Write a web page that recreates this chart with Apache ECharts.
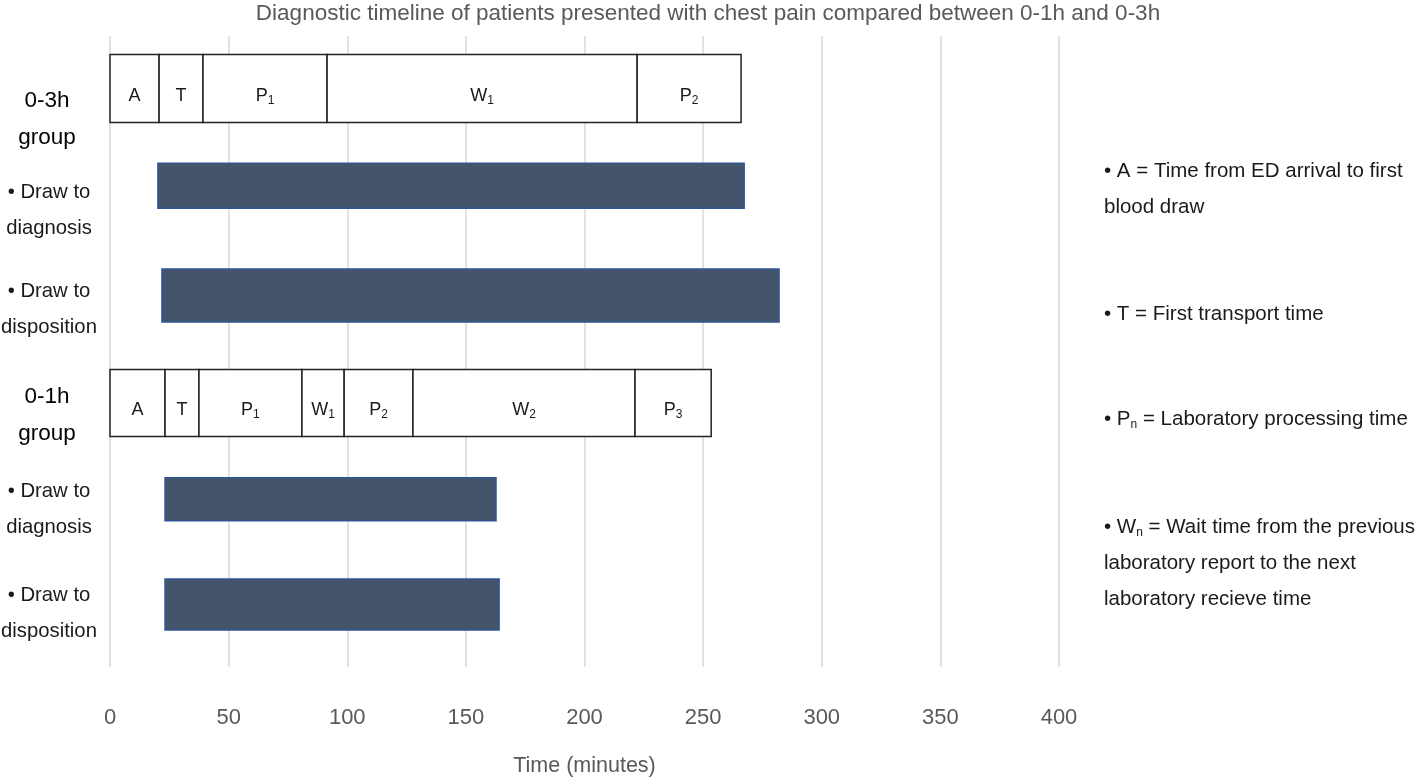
<!DOCTYPE html>
<html>
<head>
<meta charset="utf-8">
<script src="https://cdn.jsdelivr.net/npm/echarts@6/dist/echarts.min.js"></script>
<style>html,body{margin:0;padding:0;background:#fff;}#c{width:1418px;height:781px;}</style>
</head>
<body>
<div id="c"></div>
<script>
// ---------- data ----------
const categories = ['0-3h\ngroup', '• Draw to\ndiagnosis', '• Draw to\ndisposition', '0-1h\ngroup', '• Draw to\ndiagnosis', '• Draw to\ndisposition'];
const xTicks = [0, 50, 100, 150, 200, 250, 300, 350, 400];
// 0-3h group segment names and boundaries (minutes)
const seg03Names = ['A', 'T', 'P1', 'W1', 'P2'];
const seg03Bounds = [0, 20.7, 39.2, 91.5, 222.2, 266.0];
// 0-1h group segment names and boundaries (minutes)
const seg01Names = ['A', 'T', 'P1', 'W1', 'P2', 'W2', 'P3'];
const seg01Bounds = [0, 23.2, 37.5, 80.9, 98.7, 127.7, 221.3, 253.4];
// draw-to intervals [start, end] (minutes)
const diag03 = [20.2, 267.3];
const disp03 = [21.9, 282.0];
const diag01 = [23.2, 162.7];
const disp01 = [23.2, 164.0];
const legendLines = [
  '• A = Time from ED arrival to first\nblood draw',
  '• T = First transport time',
  '• P{s|n} = Laboratory processing time',
  '• W{s|n} = Wait time from the previous\nlaboratory report to the next\nlaboratory recieve time'
];

// ---------- layout / style (not data) ----------
const FONT = "'Liberation Sans', Arial, Helvetica, sans-serif";
const rowLayout = [
  {h: 68, dy: 0,  labelDy: 31},
  {h: 45, dy: -8, labelDy: 17},
  {h: 53, dy: -3.5, labelDy: 10},
  {h: 67, dy: -1, labelDy: 11},
  {h: 43, dy: -10, labelDy: 0},
  {h: 51, dy: -10, labelDy: -1}
];
const legendTops = [153, 296, 401, 509];

// build custom-series items
const items = [];
const itemLabels = [];
const itemKinds = [];
function addSegs(row, names, bounds) {
  names.forEach((n, i) => {
    items.push([row, bounds[i], bounds[i + 1]]);
    itemLabels.push(n);
    itemKinds.push('seg');
  });
}
function addBar(row, iv) {
  items.push([row, iv[0], iv[1]]);
  itemLabels.push('');
  itemKinds.push('bar');
}
addSegs(0, seg03Names, seg03Bounds);
addBar(1, diag03);
addBar(2, disp03);
addSegs(3, seg01Names, seg01Bounds);
addBar(4, diag01);
addBar(5, disp01);

function richName(n) {
  if (n.length > 1) return n[0] + '{s|' + n.slice(1) + '}';
  return n;
}

const chart = echarts.init(document.getElementById('c'), null, {renderer: 'canvas'});
chart.setOption({
  backgroundColor: '#fff',
  animation: false,
  textStyle: {fontFamily: FONT},
  title: {
    text: 'Diagnostic timeline of patients presented with chest pain compared between 0-1h and 0-3h',
    left: 708, textAlign: 'center', top: 2, padding: 0,
    textStyle: {fontSize: 22.5, fontWeight: 'normal', color: '#595959', fontFamily: FONT}
  },
  grid: {left: 110, right: 359, top: 36, bottom: 114, containLabel: false, outerBoundsMode: 'none'},
  xAxis: {
    type: 'value', min: xTicks[0], max: xTicks[xTicks.length - 1], interval: 50,
    axisLine: {show: false}, axisTick: {show: false},
    splitLine: {show: true, lineStyle: {color: '#d9d9d9', width: 1.5}},
    axisLabel: {fontSize: 22, color: '#595959', margin: 40, fontFamily: FONT},
    name: 'Time (minutes)', nameLocation: 'middle', nameGap: 88,
    nameTextStyle: {fontSize: 21.5, color: '#595959', fontFamily: FONT}
  },
  yAxis: {
    type: 'category', inverse: true, data: categories,
    axisLine: {show: false}, axisTick: {show: false}, splitLine: {show: false},
    axisLabel: {show: false}
  },
  series: [{
    type: 'custom',
    encode: {x: [1, 2], y: 0},
    data: items,
    renderItem: function (params, api) {
      const row = api.value(0);
      const s = api.value(1), e = api.value(2);
      const p0 = api.coord([s, row]);
      const p1 = api.coord([e, row]);
      const L = rowLayout[row];
      const cy = p0[1] + L.dy;
      const kind = itemKinds[params.dataIndex];
      const rect = {
        type: 'rect',
        shape: {x: p0[0], y: cy - L.h / 2, width: p1[0] - p0[0], height: L.h},
        style: kind === 'seg'
          ? {fill: '#fff', stroke: '#222', lineWidth: 1.5}
          : {fill: '#44546A', stroke: '#2F5597', lineWidth: 1.5}
      };
      if (kind !== 'seg') return rect;
      return {
        type: 'group',
        children: [rect, {
          type: 'text',
          x: (p0[0] + p1[0]) / 2, y: cy + 7,
          style: {
            text: richName(itemLabels[params.dataIndex]),
            fontSize: 18, fontFamily: FONT, fill: '#1a1a1a',
            align: 'center', verticalAlign: 'middle',
            rich: {s: {fontSize: 12, fontFamily: FONT, fill: '#1a1a1a', padding: [10, 0, 0, 0]}}
          }
        }]
      };
    }
  }]
});

// category labels placed at the category-axis positions, plus the side legend
const gfx = [];
categories.forEach((c, i) => {
  const y = chart.convertToPixel({yAxisIndex: 0}, i);
  const isGroup = (i === 0 || i === 3);
  gfx.push({
    type: 'text', x: isGroup ? 47 : 49, y: y + rowLayout[i].labelDy,
    style: {
      text: c, fontFamily: FONT,
      fontSize: isGroup ? 22.5 : 20.3, lineHeight: isGroup ? 37 : 36,
      fill: isGroup ? '#000' : '#1a1a1a',
      align: 'center', verticalAlign: 'middle'
    }
  });
});
legendLines.forEach((t, i) => {
  gfx.push({
    type: 'text', left: 1104, top: legendTops[i],
    style: {
      text: t, fontSize: 20.5, lineHeight: 36, fontFamily: FONT, fill: '#1a1a1a',
      rich: {s: {fontSize: 12, fontFamily: FONT, fill: '#1a1a1a', padding: [12, 0, 0, 0], lineHeight: 36}}
    }
  });
});
chart.setOption({graphic: gfx});
</script>
</body>
</html>
